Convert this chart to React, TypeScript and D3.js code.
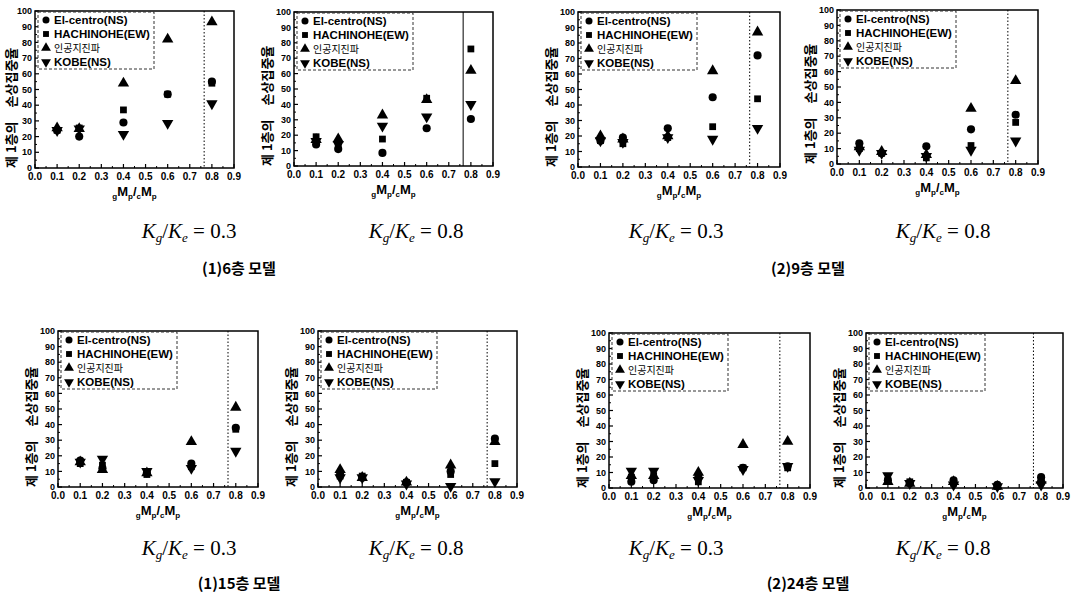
import React from 'react';
import * as d3 from 'd3';

// x positions of the measured points (gMp/cMp)
const xValues = [0.1, 0.2, 0.4, 0.6, 0.8];
const seriesNames = ['El-centro(NS)', 'HACHINOHE(EW)', '인공지진파', 'KOBE(NS)'];
const xTicks = [0, 0.1, 0.2, 0.3, 0.4, 0.5, 0.6, 0.7, 0.8, 0.9];
const yTicks = [0, 10, 20, 30, 40, 50, 60, 70, 80, 90, 100];
const splitAt = 0.765;

// each panel: [El-centro, HACHINOHE, 인공지진파, KOBE] at xValues
const story6Kg03 = [
  [24, 20, 29, 47, 55],
  [24, 25.5, 37, 47, 54],
  [25.5, 25, 54, 82, 93],
  [24, 25, 21.5, 28.5, 41],
];
const story6Kg08 = [
  [14, 11, 8.5, 24.5, 30.5],
  [19, 13, 17.5, 44, 76],
  [17, 17.5, 33, 43, 62],
  [16, 14, 26, 32, 40],
];
const story9Kg03 = [
  [17, 19, 25, 45, 72],
  [17, 15, 19, 26, 44],
  [20, 18, 20, 62, 87],
  [17, 16, 19, 18, 25],
];
const story9Kg08 = [
  [13.5, 7, 11.5, 22.5, 32],
  [10, 7, 4, 12, 27],
  [11, 8, 6, 36, 54],
  [9, 7, 5, 9, 15],
];
const story15Kg03 = [
  [17, 12, 9, 15, 38],
  [15, 14, 8, 13, 37],
  [16, 11, 9, 29, 51],
  [16, 18, 10, 12, 23],
];
const story15Kg08 = [
  [8, 6, 3, 10, 31],
  [7, 7, 3, 8, 15],
  [11, 6, 3, 14, 29],
  [6, 6, 2, 0.5, 3.5],
];
const story24Kg03 = [
  [4, 5, 7, 13, 14],
  [7, 8, 4, 13, 13],
  [8, 8, 10, 28, 30],
  [11, 11, 5, 12, 14],
];
const story24Kg08 = [
  [5, 3, 5, 2, 7],
  [5, 4, 3, 1, 4],
  [4, 3, 4, 1, 5],
  [8, 3, 2, 1, 2],
];

const kRatios = ['0.3', '0.8', '0.3', '0.8'];
const modelCaptions = ['(1)6층 모델', '(2)9층 모델', '(1)15층 모델', '(2)24층 모델'];

const panels = [
  { data: story6Kg03, left: 35, right: 234, top: 11, bottom: 168, solid: false },
  { data: story6Kg08, left: 294, right: 493, top: 12, bottom: 166, solid: true },
  { data: story9Kg03, left: 578, right: 780, top: 12, bottom: 167, solid: false },
  { data: story9Kg08, left: 837, right: 1038, top: 10, bottom: 164, solid: false },
  { data: story15Kg03, left: 58, right: 258, top: 331, bottom: 487, solid: false },
  { data: story15Kg08, left: 318, right: 517, top: 331, bottom: 487, solid: false },
  { data: story24Kg03, left: 609, right: 810, top: 333, bottom: 488, solid: false },
  { data: story24Kg08, left: 866, right: 1063, top: 333, bottom: 488, solid: false },
];

const kCaptionX = [189, 416, 676, 943];
const modelCaptionX = [239, 808];
const rowCaptionY = [{ k: 238, m: 274 }, { k: 555, m: 589 }];

const sans = '"Liberation Sans", Arial, sans-serif';
const kor = '"Noto Sans CJK KR", sans-serif';
const serif = '"Liberation Serif", "DejaVu Serif", serif';

const symbolPath = (i: number, scale = 1) => {
  const types = [d3.symbolCircle, d3.symbolSquare, d3.symbolTriangle, d3.symbolTriangle];
  const sizes = [52, 46, 56, 56];
  return d3.symbol().type(types[i]).size(sizes[i] * scale)() || '';
};

const Marker = ({ i, x, y, scale = 1 }: { i: number; x: number; y: number; scale?: number }) => (
  <path
    d={symbolPath(i, scale)}
    transform={`translate(${x},${y})${i === 3 ? ' rotate(180)' : ''}`}
    fill="#000"
  />
);

const Panel = ({ p }: { p: typeof panels[number] }) => {
  const x = d3.scaleLinear().domain([0, 0.9]).range([p.left, p.right]);
  const y = d3.scaleLinear().domain([0, 100]).range([p.bottom, p.top]);
  const minorX = d3.range(0.05, 0.9, 0.1);
  const minorY = d3.range(5, 100, 10);
  const lx = p.left + 3;
  const ly = p.top + 1;
  const cx = (p.left + p.right) / 2;
  const titleX = Math.max(p.left - 27, 11);
  const rowGap = 14;

  return (
    <g>
      {/* frame */}
      <rect x={p.left} y={p.top} width={p.right - p.left} height={p.bottom - p.top}
        fill="none" stroke="#000" strokeWidth={1.5} />
      <line x1={x(splitAt)} x2={x(splitAt)} y1={p.top} y2={p.bottom} stroke="#000"
        strokeWidth={1} strokeDasharray={p.solid ? undefined : '1.5,2'} />

      {/* ticks */}
      {xTicks.map(t => (
        <g key={`x${t}`}>
          <line x1={x(t)} x2={x(t)} y1={p.bottom} y2={p.bottom - 4} stroke="#000" strokeWidth={1.2} />
          <text x={x(t)} y={p.bottom + 12} textAnchor="middle" fontFamily={sans}
            fontWeight="bold" fontSize={10}>{t.toFixed(1)}</text>
        </g>
      ))}
      {minorX.map(t => (
        <line key={`mx${t}`} x1={x(t)} x2={x(t)} y1={p.bottom} y2={p.bottom - 2} stroke="#000" />
      ))}
      {yTicks.map(t => (
        <g key={`y${t}`}>
          <line x1={p.left} x2={p.left + 4} y1={y(t)} y2={y(t)} stroke="#000" strokeWidth={1.2} />
          <text x={p.left - 3} y={y(t)} dy="0.35em" textAnchor="end" fontFamily={sans}
            fontWeight="bold" fontSize={9}>{t}</text>
        </g>
      ))}
      {minorY.map(t => (
        <line key={`my${t}`} x1={p.left} x2={p.left + 2} y1={y(t)} y2={y(t)} stroke="#000" />
      ))}

      {/* axis titles */}
      <text transform={`translate(${titleX},${p.bottom}) rotate(-90)`} fontFamily={kor}
        fontWeight="bold" fontSize={13} dy="0.35em">
        제 1층의<tspan dx={14}>손상집중율</tspan>
      </text>
      <text x={cx} y={p.bottom + 28} textAnchor="middle" fontFamily={sans} fontWeight="bold"
        fontSize={13}>
        <tspan fontSize={8} dy={3}>g</tspan>
        <tspan dy={-3}>M</tspan>
        <tspan fontSize={8} dy={3}>p</tspan>
        <tspan dy={-3}>/</tspan>
        <tspan fontSize={8} dy={3}>c</tspan>
        <tspan dy={-3}>M</tspan>
        <tspan fontSize={8} dy={3}>p</tspan>
      </text>

      {/* legend */}
      <rect x={lx} y={ly} width={116} height={57} fill="#fff" stroke="#333"
        strokeWidth={1} strokeDasharray="3,2" />
      {seriesNames.map((name, i) => (
        <g key={name}>
          <Marker i={i} x={lx + 8} y={ly + 8 + i * rowGap} scale={0.75} />
          <text x={lx + 16} y={ly + 8 + i * rowGap} dy="0.35em"
            fontFamily={i === 2 ? kor : sans} fontWeight={i === 2 ? 'normal' : 'bold'}
            fontSize={i === 2 ? 10 : 11.5}>{name}</text>
        </g>
      ))}

      {/* points */}
      {p.data.map((series, i) =>
        series.map((v, j) => <Marker key={`${i}-${j}`} i={i} x={x(xValues[j])} y={y(v)} />)
      )}
    </g>
  );
};

const KCaption = ({ x, y, v }: { x: number; y: number; v: string }) => (
  <text x={x} y={y} textAnchor="middle" fontFamily={serif} fontSize={21}>
    <tspan fontStyle="italic">K</tspan>
    <tspan fontStyle="italic" fontSize={13} dy={4}>g</tspan>
    <tspan dy={-4}>/</tspan>
    <tspan fontStyle="italic">K</tspan>
    <tspan fontStyle="italic" fontSize={13} dy={4}>e</tspan>
    <tspan dy={-4}> = {v}</tspan>
  </text>
);

export default function App() {
  return (
    <div style={{ position: 'absolute', left: 0, top: 0 }}>
      <svg width={1072} height={597} style={{ display: 'block', background: '#fff' }}>
        {panels.map((p, i) => <Panel key={i} p={p} />)}
        {rowCaptionY.map((r, row) => (
          <g key={row}>
            {kRatios.map((v, i) => (
              <KCaption key={i} x={kCaptionX[i]} y={r.k} v={v} />
            ))}
            {modelCaptionX.map((mx, i) => (
              <text key={i} x={mx} y={r.m} textAnchor="middle" fontFamily={kor}
                fontWeight="bold" fontSize={15}>{modelCaptions[row * 2 + i]}</text>
            ))}
          </g>
        ))}
      </svg>
    </div>
  );
}
